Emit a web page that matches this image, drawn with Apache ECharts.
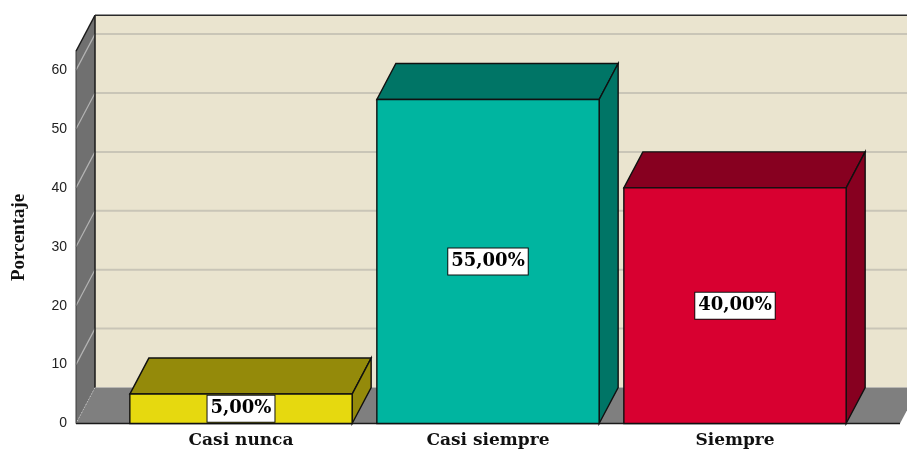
<!DOCTYPE html>
<html>
<head>
<meta charset="utf-8">
<style>html,body{margin:0;padding:0;background:#fff}#chart{width:907px;height:451px}</style>
<script src="https://cdn.jsdelivr.net/npm/echarts@6/dist/echarts.min.js"></script>
</head>
<body>
<div id="chart"></div>
<script>
// Frequency of responses, as a percentage of respondents
const categories = ['Casi nunca', 'Casi siempre', 'Siempre'];
const percentages = [5, 55, 40];
const valueLabels = ['5,00%', '55,00%', '40,00%'];
const yTicks = [0, 10, 20, 30, 40, 50, 60];
const yMax = 63.2;
const frontColors = ['#E6D90F', '#00B5A0', '#D80030'];
const topColors = ['#948A0A', '#007566', '#870020'];
const sideColors = ['#948A0A', '#007566', '#870020'];

// Oblique projection offset of the 3D box and side margin of the plot floor
const DX = 19, DY = -36, MARGIN = 41.5;
const SERIF = '"DejaVu Serif", serif';

function poly(points, fill, stroke, lineWidth) {
  return {
    type: 'polygon',
    shape: { points },
    style: { fill, stroke: stroke || null, lineWidth: lineWidth || 0 }
  };
}
function line(x1, y1, x2, y2, stroke, lineWidth, lineDash) {
  return {
    type: 'line',
    shape: { x1, y1, x2, y2 },
    style: { stroke, lineWidth, lineDash: lineDash || null }
  };
}

// Back wall, floor and left wall of the box, with the gridlines
function renderRoom(params, api) {
  const cs = params.coordSys;
  const x0 = cs.x - MARGIN;
  const x1 = cs.x + cs.width + MARGIN;
  const yBase = api.coord([0, 0])[1];
  const yTop = api.coord([0, yMax])[1];
  const children = [
    poly([[x0 + DX, yBase + DY], [x1 + DX, yBase + DY], [x1 + DX, yTop + DY], [x0 + DX, yTop + DY]], '#EAE4CF'),
    poly([[x0, yBase], [x1, yBase], [x1 + DX, yBase + DY], [x0 + DX, yBase + DY]], '#7F7F7F'),
    poly([[x0, yBase], [x0 + DX, yBase + DY], [x0 + DX, yTop + DY], [x0, yTop]], '#707070')
  ];
  yTicks.forEach(function (t) {
    const y = api.coord([0, t])[1];
    if (t > 0) {
      children.push(line(x0 + DX, y + DY, x1 + DX, y + DY, '#C9C5B7', 2));
      children.push(line(x0, y, x0 + DX, y + DY, '#B4B4B4', 1.2));
    } else {
      children.push(line(x0, y, x0 + DX, y + DY, '#C8C8C8', 1, [1, 2]));
    }
  });
  children.push(
    line(x0 + DX, yBase + DY, x0 + DX, yTop + DY, '#1A1A1A', 1.5),
    line(x0 + DX, yTop + DY, x1 + DX, yTop + DY, '#2A2A2A', 1.6),
    line(x0, yTop, x0 + DX, yTop + DY, '#1A1A1A', 1.5),
    line(x0, yBase, x0, yTop, '#3A3A3A', 1),
    line(x0, yBase, x1, yBase, '#1A1A1A', 1.5)
  );
  return { type: 'group', children };
}

// One 3D bar: front, side and top faces plus the value label
function renderBar(params, api) {
  const i = api.value(0);
  const v = api.value(1);
  const base = api.coord([i, 0]);
  const top = api.coord([i, v]);
  const w = api.size([1, 0])[0] * 0.9;
  const l = base[0] - w / 2, r = base[0] + w / 2;
  const yb = base[1], yt = top[1];
  const edge = '#101010';
  return {
    type: 'group',
    children: [
      poly([[l, yt], [r, yt], [r + DX, yt + DY], [l + DX, yt + DY]], topColors[i], edge, 1.4),
      poly([[r, yb], [r + DX, yb + DY], [r + DX, yt + DY], [r, yt]], sideColors[i], edge, 1.4),
      poly([[l, yb], [r, yb], [r, yt], [l, yt]], frontColors[i], edge, 1.4),
      {
        type: 'text',
        x: base[0],
        y: (yb + yt) / 2,
        style: {
          text: valueLabels[i],
          align: 'center',
          verticalAlign: 'middle',
          font: 'bold 18px ' + SERIF,
          fill: '#000',
          backgroundColor: '#fff',
          borderColor: '#111',
          borderWidth: 1,
          padding: [5, 3, 3, 3]
        }
      }
    ]
  };
}

const chart = echarts.init(document.getElementById('chart'), null, { renderer: 'canvas' });
chart.setOption({
  animation: false,
  backgroundColor: '#fff',
  grid: { left: 117.5, width: 741, top: 51.25, bottom: 27.5 },
  xAxis: {
    type: 'category',
    data: categories,
    axisLine: { show: false },
    axisTick: { show: false },
    axisLabel: { margin: 9, fontFamily: SERIF, fontWeight: 'bold', fontSize: 17, color: '#111' }
  },
  yAxis: {
    type: 'value',
    min: 0,
    max: yMax,
    interval: 10,
    offset: MARGIN,
    name: 'Porcentaje',
    nameLocation: 'middle',
    nameGap: 47,
    nameRotate: 90,
    nameTextStyle: { fontFamily: '"Liberation Serif", serif', fontWeight: 'bold', fontSize: 19, color: '#111' },
    splitLine: { show: false },
    axisLine: { show: false },
    axisTick: { show: false },
    axisLabel: {
      margin: 9,
      showMaxLabel: false,
      fontFamily: '"Liberation Sans", sans-serif',
      fontSize: 14,
      padding: [4, 0, 0, 0],
      color: '#222'
    }
  },
  series: [
    { type: 'custom', z: 1, clip: false, renderItem: renderRoom, data: [[0, 0]], silent: true },
    {
      type: 'custom',
      z: 2,
      clip: false,
      renderItem: renderBar,
      encode: { x: 0, y: 1 },
      data: percentages.map(function (p, i) { return [i, p]; })
    }
  ]
});
</script>
</body>
</html>
